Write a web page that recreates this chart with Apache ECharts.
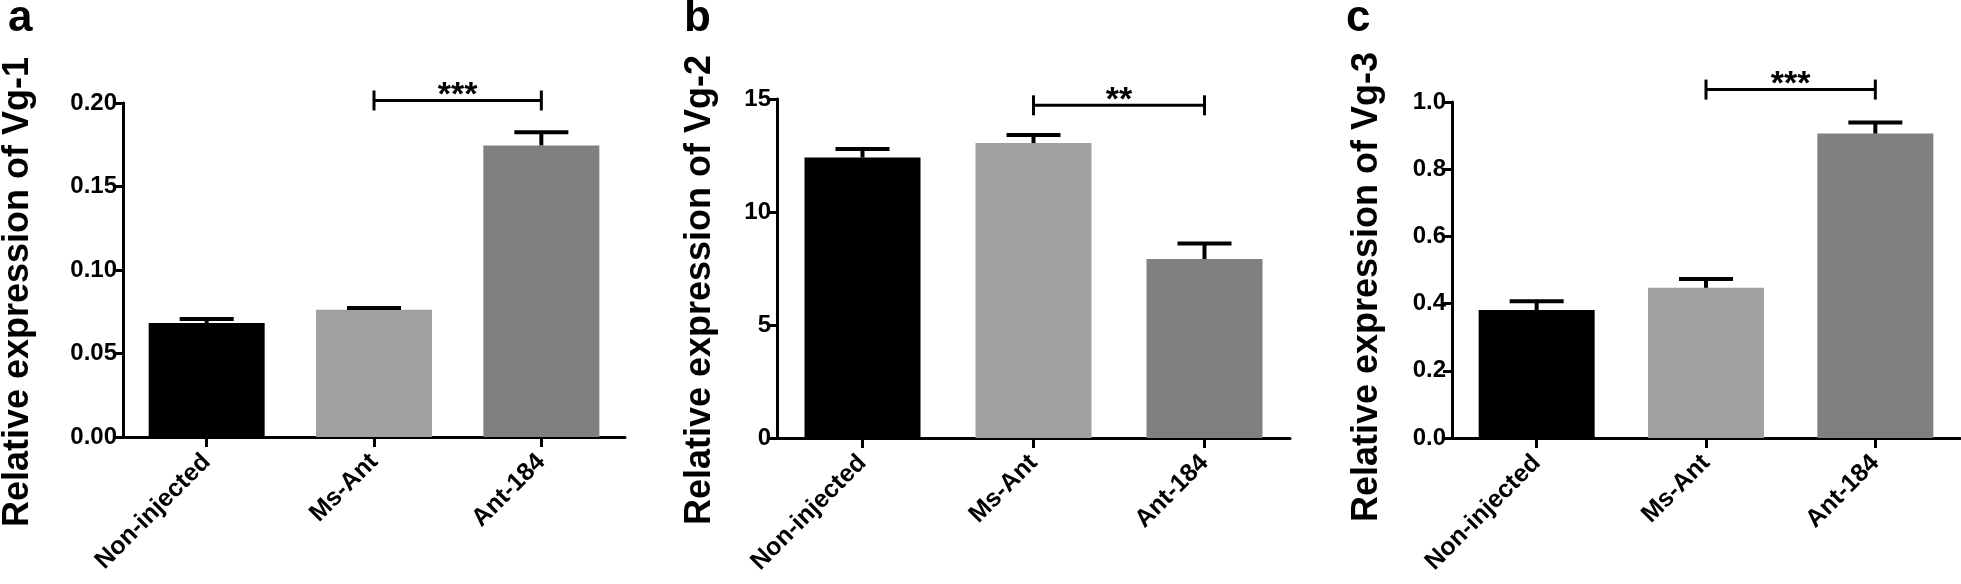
<!DOCTYPE html>
<html>
<head>
<meta charset="utf-8">
<script src="https://cdn.jsdelivr.net/npm/echarts@6/dist/echarts.min.js"></script>
<style>
html,body{margin:0;padding:0;background:#fff;}
#chart{width:1961px;height:584px;}
</style>
</head>
<body>
<div id="chart"></div>
<script>
// ---- data ----
var categories = ['Non-injected', 'Ms-Ant', 'Ant-184'];
var barColors = ['#000000', '#a0a0a0', '#808080'];

var vg1Mean = [0.0683, 0.0762, 0.1746];
var vg1Sem  = [0.0023, 0.0011, 0.0079];
var vg2Mean = [12.41, 13.05, 7.92];
var vg2Sem  = [0.38, 0.36, 0.69];
var vg3Mean = [0.381, 0.447, 0.906];
var vg3Sem  = [0.026, 0.026, 0.033];

var yTicksA = {min: 0, max: 0.20, interval: 0.05, digits: 2};
var yTicksB = {min: 0, max: 15, interval: 5, digits: 0};
var yTicksC = {min: 0, max: 1.0, interval: 0.2, digits: 1};

var sigA = {from: 1, to: 2, y: 0.2015, label: '***'};
var sigB = {from: 1, to: 2, y: 14.72, label: '**'};
var sigC = {from: 1, to: 2, y: 1.037, label: '***'};

var panelLetters = ['a', 'b', 'c'];
var yTitles = ['Relative expression of Vg-1', 'Relative expression of Vg-2', 'Relative expression of Vg-3'];

// ---- layout / style ----
var FONT = '"Liberation Sans", Arial, sans-serif';
var grids = [
  {left: 123, top: 103, width: 502, height: 334},
  {left: 777, top: 99, width: 513, height: 339},
  {left: 1452, top: 102, width: 508, height: 336}
];
var panels = [
  {mean: vg1Mean, sem: vg1Sem, ticks: yTicksA, sig: sigA},
  {mean: vg2Mean, sem: vg2Sem, ticks: yTicksB, sig: sigB},
  {mean: vg3Mean, sem: vg3Sem, ticks: yTicksC, sig: sigC}
];
var titlePos = [[18, 292], [700, 290], [1367, 287]];
var letterPos = [[8, -3], [684, -3], [1346, -3]];

var chart = echarts.init(document.getElementById('chart'), null, {renderer: 'canvas'});

var option = {
  animation: false,
  backgroundColor: '#ffffff',
  grid: grids.map(function (g) { return {left: g.left, top: g.top, width: g.width, height: g.height, containLabel: false}; }),
  xAxis: panels.map(function (p, i) {
    return {
      type: 'category', gridIndex: i, data: categories,
      axisLine: {show: true, lineStyle: {color: '#000', width: 3}},
      axisTick: {show: true, alignWithLabel: true, length: 10, lineStyle: {color: '#000', width: 3}},
      axisLabel: {rotate: 45, margin: 21, color: '#000', fontFamily: FONT, fontWeight: 'bold', fontSize: 25},
      splitLine: {show: false}
    };
  }),
  yAxis: panels.map(function (p, i) {
    return {
      type: 'value', gridIndex: i,
      min: p.ticks.min, max: p.ticks.max, interval: p.ticks.interval,
      axisLine: {show: true, lineStyle: {color: '#000', width: 3}},
      axisTick: {show: true, length: 9, lineStyle: {color: '#000', width: 3}},
      axisLabel: {margin: 6, color: '#000', fontFamily: FONT, fontWeight: 'bold', fontSize: 24,
        formatter: function (v) { return v.toFixed(p.ticks.digits); }},
      splitLine: {show: false}
    };
  }),
  series: [],
  graphic: []
};

panels.forEach(function (p, i) {
  option.series.push({
    type: 'bar', xAxisIndex: i, yAxisIndex: i,
    barWidth: 116,
    data: p.mean.map(function (v, k) { return {value: v, itemStyle: {color: barColors[k]}}; }),
    z: 2
  });
  option.series.push({
    type: 'custom', xAxisIndex: i, yAxisIndex: i, z: 3, clip: false,
    data: p.mean.map(function (v, k) { return [k, v, p.sem[k]]; }),
    encode: {x: 0, y: 1},
    renderItem: function (params, api) {
      var x = api.value(0), m = api.value(1), e = api.value(2);
      var p0 = api.coord([x, m]);
      var p1 = api.coord([x, m + e]);
      var half = 27;
      return {type: 'group', children: [
        {type: 'line', shape: {x1: p0[0], y1: p0[1], x2: p1[0], y2: p1[1]}, style: {stroke: '#000', lineWidth: 4}},
        {type: 'line', shape: {x1: p1[0] - half, y1: p1[1], x2: p1[0] + half, y2: p1[1]}, style: {stroke: '#000', lineWidth: 4}}
      ]};
    }
  });
  option.series.push({
    type: 'custom', xAxisIndex: i, yAxisIndex: i, z: 4, clip: false,
    data: [[p.sig.from, p.sig.to, p.sig.y]],
    encode: {x: [0, 1], y: 2},
    renderItem: function (params, api) {
      var a = api.coord([api.value(0), api.value(2)]);
      var b = api.coord([api.value(1), api.value(2)]);
      var h = 10;
      return {type: 'group', children: [
        {type: 'line', shape: {x1: a[0], y1: a[1], x2: b[0], y2: b[1]}, style: {stroke: '#000', lineWidth: 3}},
        {type: 'line', shape: {x1: a[0], y1: a[1] - h, x2: a[0], y2: a[1] + h}, style: {stroke: '#000', lineWidth: 3}},
        {type: 'line', shape: {x1: b[0], y1: b[1] - h, x2: b[0], y2: b[1] + h}, style: {stroke: '#000', lineWidth: 3}},
        {type: 'text', x: (a[0] + b[0]) / 2, y: a[1] - 5,
          style: {text: p.sig.label, fill: '#000', font: 'bold 34px ' + FONT, textAlign: 'center', textVerticalAlign: 'middle'}}
      ]};
    }
  });
  option.graphic.push({
    type: 'text', x: titlePos[i][0], y: titlePos[i][1], rotation: Math.PI / 2,
    style: {text: yTitles[i], fill: '#000', font: 'bold 36px ' + FONT, textAlign: 'center', textVerticalAlign: 'middle'}
  });
  option.graphic.push({
    type: 'text', x: letterPos[i][0], y: letterPos[i][1],
    style: {text: panelLetters[i], fill: '#000', font: 'bold 44px ' + FONT, textAlign: 'left', textVerticalAlign: 'top'}
  });
});

chart.setOption(option);
</script>
</body>
</html>
